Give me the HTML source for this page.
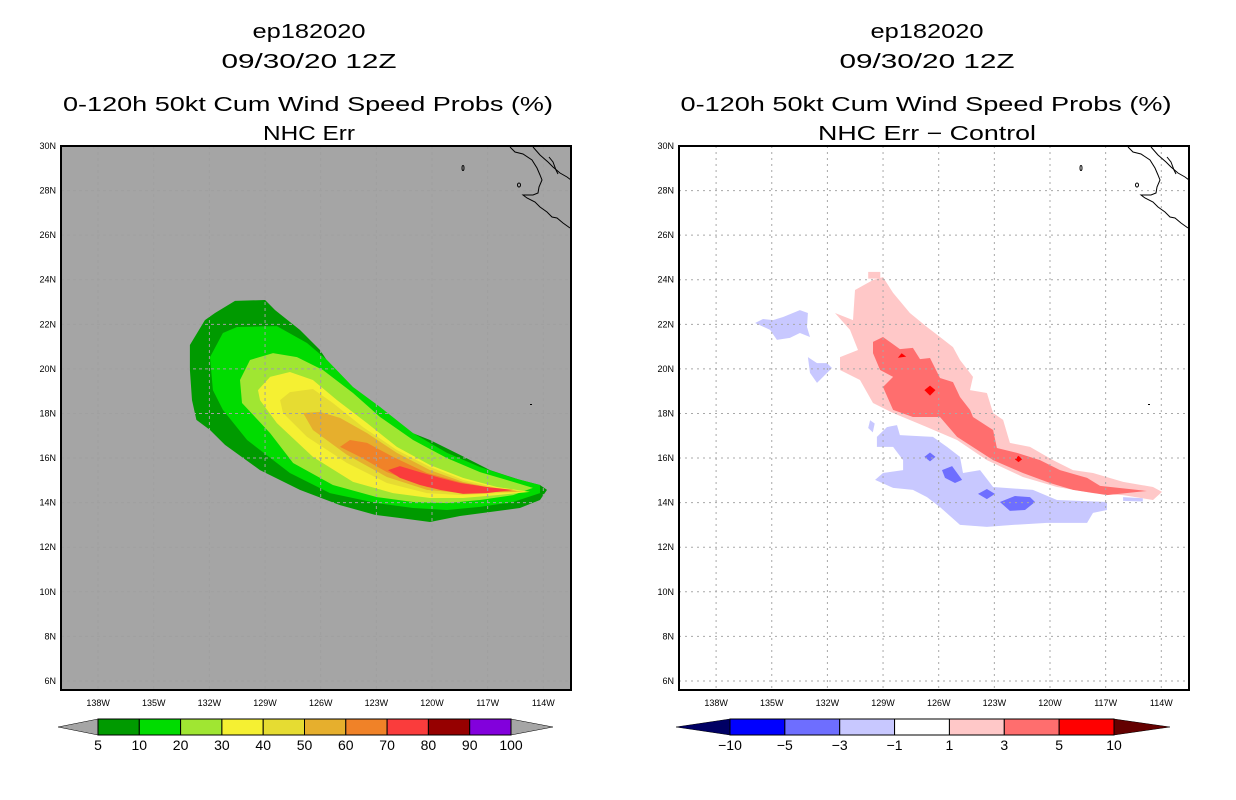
<!DOCTYPE html>
<html><head><meta charset="utf-8">
<style>
html,body{margin:0;padding:0;background:#fff;}
svg{display:block;font-family:"Liberation Sans",sans-serif;}
</style></head>
<body>
<svg id="fig" width="1236" height="800" viewBox="0 0 1236 800" xmlns="http://www.w3.org/2000/svg">
  <rect width="1236" height="800" fill="#fff"/>
  <!-- Titles -->
  <g font-size="20" text-anchor="middle" fill="#000">
    <text x="309" y="38" textLength="113" lengthAdjust="spacingAndGlyphs">ep182020</text>
    <text x="309" y="68" textLength="175" lengthAdjust="spacingAndGlyphs">09/30/20 12Z</text>
    <text x="308" y="111" textLength="490" lengthAdjust="spacingAndGlyphs">0-120h 50kt Cum Wind Speed Probs (%)</text>
    <text x="309" y="140" textLength="92" lengthAdjust="spacingAndGlyphs">NHC Err</text>
  </g>
  <g font-size="20" text-anchor="middle" fill="#000">
    <text x="927" y="38" textLength="113" lengthAdjust="spacingAndGlyphs">ep182020</text>
    <text x="927" y="68" textLength="175" lengthAdjust="spacingAndGlyphs">09/30/20 12Z</text>
    <text x="926" y="111" textLength="491" lengthAdjust="spacingAndGlyphs">0-120h 50kt Cum Wind Speed Probs (%)</text>
    <text x="927" y="140" textLength="218" lengthAdjust="spacingAndGlyphs">NHC Err − Control</text>
  </g>
  <g id="left"></g>
  <g id="right"></g>
  <g id="cbars"></g>
</svg>
<script>
// ---- Data ----
const lonTicks = [138,135,132,129,126,123,120,117,114];
const latTicks = [30,28,26,24,22,20,18,16,14,12,10,8,6];
const probLevels = [5,10,20,30,40,50,60,70,80,90,100];
const probColors = ["#009a00","#00dc00","#a0e632","#f5f032","#e6dc32","#e6af2d","#f08228","#fa3c3c","#960000","#8200dc"];
const diffLevels = [-10,-5,-3,-1,1,3,5,10];
const diffColors = ["#0000ff","#6e6eff","#c8c8ff","#ffffff","#ffc8c8","#ff6e6e","#ff0000"];
// probability contours: [lonW, latN]
const prob5 = [[133.05,21.07],[132.24,22.19],[131.70,22.51],[130.62,23.05],[129.0,23.09],[128.46,22.64],[127.12,21.75],[126.04,20.85],[124.96,19.5],[123.07,18.16],[121.73,17.35],[120.11,16.81],[118.49,16.14],[116.87,15.46],[115.26,15.02],[114.18,14.79],[113.8,14.57],[114.18,14.12],[115.26,13.76],[116.87,13.58],[118.49,13.40],[120.11,13.13],[121.73,13.31],[123.07,13.45],[124.96,13.89],[127.12,14.57],[129.27,15.46],[131.16,16.59],[131.97,17.26],[132.7,17.71],[132.94,18.6],[133.05,19.95]];
const prob10 = [[131.97,20.53],[131.27,21.61],[130.51,21.88],[128.36,21.92],[126.74,21.16],[125.66,20.40],[124.26,19.19],[122.80,18.29],[121.02,17.12],[119.19,16.23],[117.41,15.60],[115.63,15.11],[114.18,14.79],[114.18,14.43],[115.63,14.03],[117.41,13.81],[119.19,13.67],[121.02,13.76],[122.97,13.98],[125.50,14.43],[127.66,15.33],[129.97,16.81],[131.27,18.16],[131.81,19.05]];
const prob20 = [[130.35,19.50],[129.81,20.40],[128.57,20.71],[127.28,20.53],[125.88,19.95],[124.26,18.92],[122.80,17.84],[121.02,16.81],[119.19,16.0],[117.41,15.37],[115.63,14.93],[114.56,14.66],[115.63,14.34],[117.41,14.12],[119.19,13.98],[121.02,14.03],[122.97,14.25],[125.34,14.79],[127.49,15.78],[128.73,17.12],[130.24,18.47]];
const prob30 = [[129.38,19.05],[128.73,19.64],[127.66,19.86],[126.42,19.50],[125.12,18.60],[123.50,17.57],[121.89,16.50],[120.11,15.69],[118.33,15.11],[116.50,14.70],[114.72,14.48],[116.50,14.34],[118.33,14.21],[120.11,14.21],[122.10,14.43],[124.26,14.93],[126.42,16.05],[128.36,17.57],[129.27,18.60]];
const prob40 = [[128.19,18.60],[127.66,18.96],[126.42,19.10],[125.34,18.47],[123.72,17.39],[121.89,16.36],[120.11,15.60],[118.33,15.02],[116.50,14.66],[114.88,14.48],[116.50,14.43],[118.33,14.34],[120.27,14.43],[122.43,14.88],[124.58,15.78],[126.74,16.95],[128.03,18.02]];
const prob50 = [[126.95,18.02],[126.04,18.07],[124.96,17.80],[123.50,17.12],[121.89,16.23],[120.11,15.46],[118.33,14.93],[116.50,14.61],[115.09,14.48],[116.50,14.48],[118.33,14.43],[120.27,14.57],[122.43,15.15],[124.58,16.14],[126.42,17.26]];
const prob60 = [[124.96,16.50],[124.42,16.81],[123.50,16.68],[122.10,16.05],[120.27,15.33],[118.33,14.88],[116.50,14.61],[115.42,14.52],[116.50,14.48],[118.33,14.48],[120.27,14.70],[122.43,15.37],[123.88,16.05]];
const prob70 = [[122.37,15.46],[121.73,15.64],[120.65,15.37],[119.57,15.11],[118.49,14.88],[117.04,14.70],[115.63,14.57],[117.04,14.43],[118.33,14.39],[119.57,14.57],[120.65,14.79],[121.73,15.11]];
// difference contours
const diffPos1 = [[131.59,22.51],[130.62,22.19],[130.51,23.54],[129.54,23.99],[129.0,24.12],[128.46,23.41],[127.55,22.51],[126.63,21.88],[125.93,21.43],[125.23,20.98],[124.85,20.40],[124.15,19.64],[124.31,19.05],[123.40,18.92],[123.07,18.02],[122.53,17.71],[122.16,16.68],[121.08,16.50],[119.84,15.91],[118.76,15.46],[117.68,15.33],[116.06,14.93],[114.45,14.70],[113.96,14.48],[114.45,14.12],[116.06,14.34],[117.68,14.43],[119.62,14.70],[121.46,15.15],[123.40,15.91],[125.01,16.81],[126.63,17.39],[128.46,18.02],[129.54,18.47],[130.24,19.50],[131.32,19.95],[131.32,20.53],[130.35,20.85],[130.78,21.75]];
const diffPos1b = [[129.80,24.35],[129.15,24.35],[129.15,24.05],[129.80,24.05]];
const diffPos3 = [[129.54,21.21],[129.0,21.43],[128.09,20.89],[127.39,20.94],[127.01,20.44],[126.47,20.49],[125.93,19.59],[125.23,19.41],[124.85,18.74],[124.31,18.16],[124.15,17.84],[123.07,17.26],[122.86,16.45],[121.78,16.23],[120.54,15.91],[119.46,15.46],[118.0,15.11],[117.30,14.75],[114.77,14.52],[116.93,14.34],[118.76,14.57],[120.0,14.88],[121.46,15.33],[123.07,15.91],[125.01,16.95],[125.93,17.84],[127.39,17.84],[128.46,18.16],[129.0,19.19],[128.46,19.64],[129.16,19.95],[129.54,20.71]];
const diffPos5a = [[126.47,19.25],[126.17,19.05],[126.47,18.80],[126.77,19.05]];
const diffPos5b = [[128.00,20.70],[127.75,20.55],[128.20,20.50]];
const diffPos5c = [[121.70,16.10],[121.50,15.95],[121.70,15.82],[121.90,15.95]];
const diffNeg1 = [[129.33,16.95],[128.79,17.39],[128.25,17.48],[128.09,17.03],[126.31,16.95],[125.55,16.50],[124.85,16.05],[124.69,15.33],[123.77,15.46],[123.07,14.70],[120.92,14.57],[119.62,14.12],[116.93,14.03],[116.93,13.67],[117.68,13.54],[118.0,13.09],[120.16,13.09],[121.99,13.0],[123.40,12.91],[124.85,13.0],[125.93,13.80],[126.63,14.25],[127.39,14.57],[128.46,14.66],[129.43,15.02],[129.0,15.33],[127.92,15.46],[127.92,15.91],[128.46,16.50],[129.33,16.50]];
const diffNeg1b = [[135.90,22.06],[135.47,22.24],[134.93,22.19],[134.39,22.33],[133.48,22.64],[133.05,22.51],[133.10,21.88],[132.94,21.43],[133.48,21.61],[134.02,21.39],[134.72,21.30],[135.09,21.75]];
const diffNeg1c = [[133.05,20.53],[132.56,20.26],[132.02,20.26],[131.75,20.04],[132.56,19.37],[132.94,19.82]];
const diffNeg1d = [[129.70,17.70],[129.45,17.55],[129.55,17.15],[129.80,17.35]];
const diffNeg1e = [[116.06,14.25],[115.00,14.20],[115.00,14.05],[116.06,14.08]];
const diffNeg3a = [[126.47,16.25],[126.17,16.05],[126.47,15.85],[126.77,16.05]];
const diffNeg3b = [[125.82,15.46],[125.28,15.64],[124.74,15.02],[125.12,14.88],[125.66,15.11]];
const diffNeg3c = [[123.88,14.39],[123.40,14.61],[122.97,14.39],[123.40,14.16]];
const diffNeg3d = [[122.70,14.03],[121.89,14.30],[121.08,14.25],[120.81,14.03],[121.35,13.67],[122.16,13.63]];

// ---- Axis functions ----
const PX = 18.55, PY = 22.29;
function xs(off){ return lon => off + 61 + (140 - lon) * PX; }
function ys(lat){ return 146 + (30 - lat) * PY; }
const NS = "http://www.w3.org/2000/svg";
function mk(tag, attrs, parent){ const e=document.createElementNS(NS,tag); for(const k in attrs) e.setAttribute(k,attrs[k]); parent.appendChild(e); return e; }

function poly(parent, pts, fx, fill, name){
  const p = mk("polygon",{points: pts.map(q=>fx(q[0]).toFixed(1)+","+ys(q[1]).toFixed(1)).join(" "), fill: fill}, parent);
  
  
}

function panel(g, off, bg, contours, gridStyle){
  const fx = xs(off);
  const x0 = off+61, x1 = off+571, y0=146, y1=690;
  const bgR = mk("rect",{x:x0,y:y0,width:510,height:544,fill:bg}, g);
  
  
  const cg = mk("g",{"clip-path":"url(#clip"+off+")"}, g);
  const cp = mk("clipPath",{id:"clip"+off}, g); mk("rect",{x:x0,y:y0,width:510,height:544},cp);
  contours.forEach(c => poly(cg, c[0], fx, c[1], c[2]));
  // grid
  const gg = mk("g",{stroke:gridStyle.color,"stroke-width":1,"stroke-dasharray":gridStyle.dash}, g);
  
  
  lonTicks.forEach(l => mk("line",{x1:fx(l),x2:fx(l),y1:y0,y2:y1},gg));
  latTicks.slice(1).forEach(l => mk("line",{x1:x0,x2:x1,y1:ys(l),y2:ys(l)},gg));
  // coastline
  const coast = mk("g",{fill:"none",stroke:"#000","stroke-width":1,transform:"translate("+off+",0)"}, g);
  
  
  mk("polyline",{points:"510,147 515,152 523,154 532,160 537,168 540,175 542,180 539,187 538,193 533,195 523,195 527,198 535,202 540,207 547,212 552,217 557,218 563,223 570,228"},coast);
  mk("polyline",{points:"533,147 540,155 548,162 553,167 560,173 567,177 571,180"},coast);
  mk("polyline",{points:"549,157 553,162 556,170 558,174"},coast);
  mk("ellipse",{cx:519,cy:185,rx:1.5,ry:2},coast);
  mk("ellipse",{cx:463,cy:168,rx:1,ry:2.5},coast);
  mk("rect",{x:530,y:404,width:2,height:1,fill:"#000",stroke:"none"},coast);
  // frame
  const fr = mk("rect",{x:x0,y:y0,width:510,height:544,fill:"none",stroke:"#000","stroke-width":2}, g);
  
  
  // tick labels
  const tl = mk("g",{"font-size":9,fill:"#000"}, g);
  
  
  lonTicks.forEach(l => { const t=mk("text",{x:fx(l),y:706,"text-anchor":"middle"},tl); t.textContent=l+"W"; });
  latTicks.forEach(l => { const t=mk("text",{x:x0-5,y:ys(l)+3,"text-anchor":"end"},tl); t.textContent=l+"N"; });
}

const C = probColors;
panel(document.getElementById("left"), 0, "#a5a5a5", [
  [prob5,C[0],"contour-5pct"],[prob10,C[1],"contour-10pct"],[prob20,C[2],"contour-20pct"],[prob30,C[3],"contour-30pct"],
  [prob40,C[4],"contour-40pct"],[prob50,C[5],"contour-50pct"],[prob60,C[6],"contour-60pct"],[prob70,C[7],"contour-70pct"]
], {color:"#a0a0a0",dash:"3,3"});
const D = diffColors;
panel(document.getElementById("right"), 618, "#ffffff", [
  [diffPos1,D[4],"diff-1to3"],[diffPos1b,D[4],"diff-1to3-blob"],[diffPos3,D[5],"diff-3to5"],
  [diffPos5a,D[6],"diff-5to10-a"],[diffPos5b,D[6],"diff-5to10-b"],[diffPos5c,D[6],"diff-5to10-c"],
  [diffNeg1,D[2],"diff-neg1to3"],[diffNeg1b,D[2],"diff-neg1to3-west"],[diffNeg1c,D[2],"diff-neg1to3-west2"],
  [diffNeg1d,D[2],"diff-neg1to3-small"],[diffNeg1e,D[2],"diff-neg1to3-tail"],
  [diffNeg3a,D[1],"diff-neg3to5-a"],[diffNeg3b,D[1],"diff-neg3to5-b"],[diffNeg3c,D[1],"diff-neg3to5-c"],[diffNeg3d,D[1],"diff-neg3to5-d"]
], {color:"#a8a8a8",dash:"2,4"});

// ---- Colorbars ----
function colorbar(levels, colors, x0, x1, tipL, tipR, lowC, hiC, name){
  const g = mk("g",{}, document.getElementById("cbars"));
  
  
  const y0=719, y1=735, ym=727, n=colors.length, w=(x1-x0)/n;
  mk("polygon",{points:`${x0},${y0} ${tipL},${ym} ${x0},${y1}`,fill:lowC,stroke:"#000","stroke-width":0.5},g);
  mk("polygon",{points:`${x1},${y0} ${tipR},${ym} ${x1},${y1}`,fill:hiC,stroke:"#000","stroke-width":0.5},g);
  colors.forEach((c,i)=>{
    const r = mk("rect",{x:x0+i*w,y:y0,width:w,height:y1-y0,fill:c,stroke:"#000","stroke-width":1},g);
    
    
  });
  levels.forEach((l,i)=>{
    const t = mk("text",{x:x0+i*w,y:750,"text-anchor":"middle","font-size":14},g);
    t.textContent = String(l).replace("-","−");
  });
}
colorbar(probLevels, probColors, 98, 511, 58, 553, "#a5a5a5", "#a5a5a5", "left-colorbar");
colorbar(diffLevels, diffColors, 730, 1114, 676, 1170, "#000064", "#640000", "right-colorbar");
</script>
</body></html>
